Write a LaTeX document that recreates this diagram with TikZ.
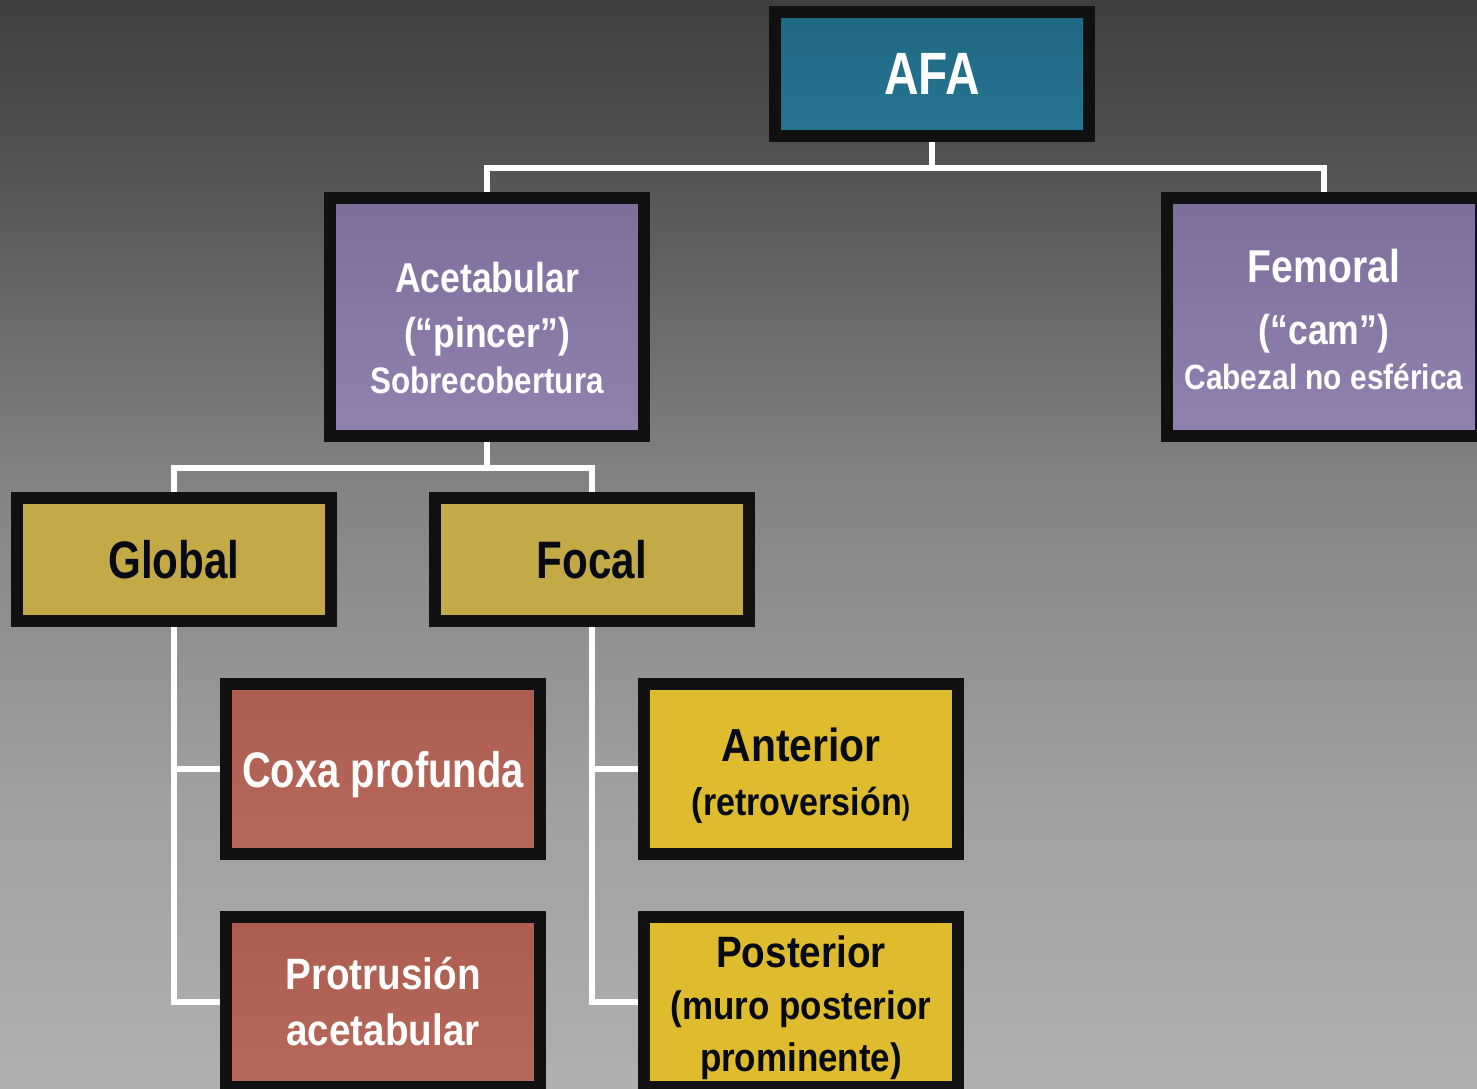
\documentclass[tikz,border=0pt]{standalone}
\usepackage{fontspec}
\setmainfont{Liberation Sans}
\newfontfamily\narrowsf[FakeStretch=0.8]{Liberation Sans}
\newfontfamily\midsf[FakeStretch=0.88]{Liberation Sans}
\newfontfamily\widesf[FakeStretch=0.85]{Liberation Sans}
\usetikzlibrary{backgrounds}

\definecolor{boxedge}{RGB}{17,17,17}
\definecolor{ink}{RGB}{5,10,20}
\definecolor{tealtop}{RGB}{31,104,131}
\definecolor{tealbot}{RGB}{39,117,146}
\definecolor{purptop}{RGB}{125,110,155}
\definecolor{purpbot}{RGB}{145,129,174}
\definecolor{goldfill}{RGB}{196,170,70}
\definecolor{rusttop}{RGB}{172,93,80}
\definecolor{rustbot}{RGB}{182,104,90}
\definecolor{yellowfill}{RGB}{223,187,46}

% fondo de la diapositiva
\pgfdeclareverticalshading{slidebg}{100bp}{rgb(0bp)=(0.69,0.69,0.69); rgb(25bp)=(0.69,0.69,0.69); rgb(38.3bp)=(0.627,0.627,0.627); rgb(53.2bp)=(0.51,0.51,0.51); rgb(66.7bp)=(0.333,0.333,0.333); rgb(75bp)=(0.247,0.247,0.247); rgb(100bp)=(0.247,0.247,0.247)}

\begin{document}
\begin{tikzpicture}[
    box/.style={draw=boxedge, line width=0.12cm, inner sep=0pt, minimum width=3.14cm, align=center},
    rootbox/.style={box, minimum height=1.24cm, top color=tealtop, bottom color=tealbot, text=white, font=\narrowsf\bfseries\fontsize{17}{20}\selectfont},
    typebox/.style={box, minimum height=2.38cm, top color=purptop, bottom color=purpbot, text=white, font=\widesf\bfseries\fontsize{11.9}{13.6}\selectfont},
    kindbox/.style={box, minimum height=1.23cm, fill=goldfill, text=ink, text depth=0pt, font=\narrowsf\bfseries\fontsize{15}{18}\selectfont},
    globbox/.style={box, minimum height=1.70cm, top color=rusttop, bottom color=rustbot, text=white, font=\midsf\bfseries\fontsize{12.5}{15.9}\selectfont},
    focbox/.style={box, minimum height=1.70cm, fill=yellowfill, text=ink, font=\midsf\bfseries\fontsize{12.5}{14.7}\selectfont},
    link/.style={draw=white, line width=1.5pt}
  ]
    \useasboundingbox (0,0) rectangle (14.77,-10.89);
    \clip (0,0) rectangle (14.77,-10.89);

    % nodos
    \node[rootbox] (afa) at (9.32,-0.74) {AFA};
    \node[typebox] (acet) at (4.87,-3.17) {\rule{0pt}{0.52cm}Acetabular\\[2pt](“pincer”)\\[-0.5pt]\fontsize{10.5}{12}\selectfont Sobrecobertura};
    \node[typebox] (fem) at (13.24,-3.17) {\fontsize{13.1}{15}\selectfont\rule{0pt}{0.39cm}Femoral\\[4pt](“cam”)\\[-0.8pt]\fontsize{10}{12}\selectfont Cabezal no esférica};
    \node[kindbox] (glob) at (1.74,-5.595) {Global};
    \node[kindbox] (focal) at (5.92,-5.595) {Focal};
    \node[globbox, font=\narrowsf\bfseries\fontsize{14.2}{17}\selectfont, text depth=0pt] (coxa) at (3.83,-7.69) {Coxa profunda};
    \node[globbox] (protr) at (3.83,-10.02) {Protrusión\\acetabular};
    \node[focbox, font=\midsf\bfseries\fontsize{13.2}{15.1}\selectfont] (ant) at (8.01,-7.69) {\rule{0pt}{0.47cm}Anterior\\\fontsize{11}{13}\selectfont(retroversión{\fontsize{8}{10}\selectfont)}};
    \node[focbox] (post) at (8.01,-10.02) {\rule{0pt}{0.43cm}Posterior\\\fontsize{11.3}{13}\selectfont(muro posterior\\\fontsize{11.3}{13}\selectfont prominente)};

    \coordinate (split1) at (9.32,-1.68);
    \coordinate (split2) at (4.87,-4.68);

    % fondo y conectores
    \begin{scope}[on background layer]
      \fill[shading=slidebg] (0,0) rectangle (14.77,-10.89);
      \draw[link] (afa) -- (split1);
      \draw[link] (acet) |- (split1) -| (fem);
      \draw[link] (acet) -- (split2);
      \draw[link] (glob) |- (split2) -| (focal);
      \draw[link] (glob) |- (coxa);
      \draw[link] (glob) |- (protr);
      \draw[link] (focal) |- (ant);
      \draw[link] (focal) |- (post);
    \end{scope}
  \end{tikzpicture}
\end{document}
